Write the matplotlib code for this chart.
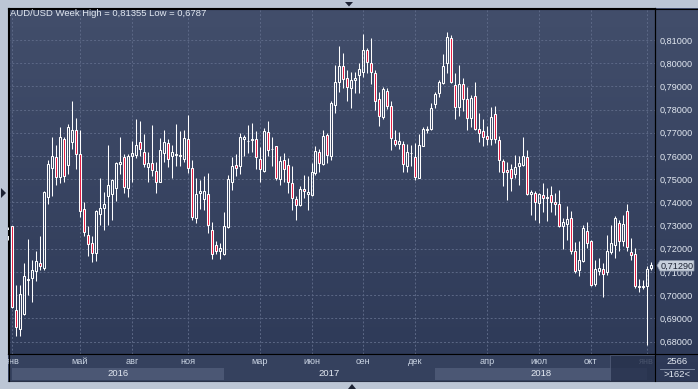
import numpy as np
import matplotlib
matplotlib.use('Agg')
import matplotlib.pyplot as plt
from matplotlib.patches import Rectangle, Polygon
from matplotlib.lines import Line2D

plt.rcParams['font.family'] = ['Liberation Sans', 'DejaVu Sans']

# weekly AUD/USD candles
opens = [0.7255, 0.7297, 0.6938, 0.6855, 0.6921, 0.7064, 0.7074, 0.7106, 0.7139, 0.7117,
         0.7423, 0.7548, 0.7595, 0.7509, 0.7672, 0.7562, 0.7662, 0.7713, 0.7608, 0.7371,
         0.7261, 0.7225, 0.7182, 0.7350, 0.7375, 0.7426, 0.7436, 0.7462, 0.7565, 0.7595,
         0.7464, 0.7598, 0.7605, 0.7660, 0.7617, 0.7552, 0.7569, 0.7536, 0.7490, 0.7615,
         0.7655, 0.7598, 0.7605, 0.7598, 0.7586, 0.7674, 0.7548, 0.7332, 0.7440, 0.7414,
         0.7436, 0.7282, 0.7218, 0.7189, 0.7179, 0.7294, 0.7486, 0.7562, 0.7555, 0.7672,
         0.7664, 0.7671, 0.7674, 0.7588, 0.7536, 0.7703, 0.7629, 0.7641, 0.7500, 0.7583,
         0.7562, 0.7483, 0.7414, 0.7387, 0.7457, 0.7437, 0.7433, 0.7526, 0.7619, 0.7565,
         0.7691, 0.7598, 0.7820, 0.7918, 0.7988, 0.7935, 0.7892, 0.7928, 0.7949, 0.7964,
         0.8057, 0.8000, 0.7957, 0.7845, 0.7770, 0.7880, 0.7816, 0.7670, 0.7651, 0.7651,
         0.7558, 0.7611, 0.7595, 0.7507, 0.7645, 0.7710, 0.7716, 0.7825, 0.7870, 0.7916,
         0.8000, 0.8107, 0.7906, 0.7813, 0.7909, 0.7845, 0.7763, 0.7859, 0.7716, 0.7708,
         0.7687, 0.7672, 0.7781, 0.7670, 0.7579, 0.7540, 0.7543, 0.7522, 0.7555, 0.7562,
         0.7595, 0.7436, 0.7440, 0.7397, 0.7433, 0.7423, 0.7433, 0.7401, 0.7394, 0.7297,
         0.7308, 0.7332, 0.7189, 0.7107, 0.7149, 0.7278, 0.7232, 0.7050, 0.7103, 0.7114,
         0.7100, 0.7185, 0.7218, 0.7311, 0.7232, 0.7361, 0.7186, 0.7177, 0.7040, 0.7035,
         0.7041, 0.7117]
highs = [0.7295, 0.7299, 0.7045, 0.7045, 0.7139, 0.7243, 0.7153, 0.7189, 0.7256, 0.7447,
         0.7581, 0.7681, 0.7648, 0.7724, 0.7681, 0.7738, 0.7839, 0.7763, 0.7713, 0.7403,
         0.7297, 0.7256, 0.7368, 0.7507, 0.7444, 0.7648, 0.7500, 0.7576, 0.7680, 0.7609,
         0.7609, 0.7665, 0.7759, 0.7753, 0.7695, 0.7617, 0.7734, 0.7572, 0.7677, 0.7713,
         0.7674, 0.7648, 0.7738, 0.7708, 0.7713, 0.7777, 0.7583, 0.7505, 0.7497, 0.7512,
         0.7526, 0.7314, 0.7232, 0.7225, 0.7357, 0.7519, 0.7594, 0.7608, 0.7698, 0.7691,
         0.7734, 0.7741, 0.7708, 0.7637, 0.7720, 0.7751, 0.7684, 0.7645, 0.7598, 0.7615,
         0.7591, 0.7558, 0.7426, 0.7472, 0.7519, 0.7512, 0.7569, 0.7641, 0.7631, 0.7713,
         0.7698, 0.7837, 0.7992, 0.8074, 0.8045, 0.7971, 0.7964, 0.7964, 0.8000, 0.8126,
         0.8064, 0.8107, 0.7971, 0.7878, 0.7899, 0.7892, 0.7839, 0.7713, 0.7703, 0.7665,
         0.7651, 0.7648, 0.7658, 0.7695, 0.7723, 0.7730, 0.7827, 0.7878, 0.7928, 0.8040,
         0.81355, 0.8122, 0.7957, 0.7992, 0.7935, 0.7899, 0.7863, 0.7921, 0.7787, 0.7759,
         0.7730, 0.7810, 0.7816, 0.7687, 0.7586, 0.7576, 0.7565, 0.7605, 0.7598, 0.7680,
         0.7627, 0.7454, 0.7447, 0.7440, 0.7483, 0.7462, 0.7469, 0.7440, 0.7454, 0.7332,
         0.7383, 0.7364, 0.7229, 0.7232, 0.7304, 0.7315, 0.7239, 0.7153, 0.7160, 0.7139,
         0.7261, 0.7304, 0.7340, 0.7325, 0.7347, 0.7394, 0.7246, 0.7203, 0.7072, 0.7066,
         0.7124, 0.7143]
lows = [0.7240, 0.6945, 0.6823, 0.6823, 0.6916, 0.7000, 0.6969, 0.7063, 0.7110, 0.7107,
        0.7393, 0.7426, 0.7476, 0.7483, 0.7490, 0.7523, 0.7631, 0.7545, 0.7335, 0.7256,
        0.7170, 0.7142, 0.7149, 0.7304, 0.7282, 0.7304, 0.7322, 0.7404, 0.7522, 0.7440,
        0.7423, 0.7486, 0.7591, 0.7598, 0.7552, 0.7490, 0.7512, 0.7440, 0.7488, 0.7576,
        0.7552, 0.7505, 0.7555, 0.7555, 0.7576, 0.7526, 0.7325, 0.7311, 0.7371, 0.7368,
        0.7268, 0.7157, 0.7179, 0.7157, 0.7175, 0.7289, 0.7454, 0.7512, 0.7523, 0.7601,
        0.7615, 0.7619, 0.7543, 0.7490, 0.7533, 0.7601, 0.7558, 0.7495, 0.7473, 0.7490,
        0.7440, 0.7368, 0.7325, 0.7385, 0.7421, 0.7368, 0.7426, 0.7519, 0.7533, 0.7562,
        0.7569, 0.7583, 0.7787, 0.7875, 0.7892, 0.7839, 0.7809, 0.7870, 0.7870, 0.7942,
        0.7957, 0.7909, 0.7799, 0.7731, 0.7759, 0.7803, 0.7627, 0.7641, 0.7629, 0.7533,
        0.7529, 0.7555, 0.7497, 0.7505, 0.7641, 0.7701, 0.7710, 0.7806, 0.7856, 0.7911,
        0.7957, 0.7913, 0.7759, 0.7773, 0.7792, 0.7713, 0.7727, 0.7713, 0.7662, 0.7641,
        0.7648, 0.7648, 0.7655, 0.7529, 0.7469, 0.7411, 0.7447, 0.7505, 0.7473, 0.7559,
        0.7433, 0.7344, 0.7322, 0.7311, 0.7357, 0.7318, 0.7357, 0.7347, 0.7295, 0.7199,
        0.7236, 0.7179, 0.7096, 0.7081, 0.7143, 0.7203, 0.7038, 0.7038, 0.7089, 0.6992,
        0.7086, 0.7179, 0.7160, 0.7192, 0.7211, 0.7189, 0.7153, 0.7030, 0.7014, 0.7025,
        0.6787, 0.7110]
closes = [0.7285, 0.6948, 0.6862, 0.7005, 0.7081, 0.7068, 0.7110, 0.7149, 0.7124, 0.7443,
          0.7565, 0.7602, 0.7509, 0.7681, 0.7512, 0.7724, 0.7713, 0.7608, 0.7365, 0.7271,
          0.7221, 0.7182, 0.7364, 0.7375, 0.7394, 0.7476, 0.7497, 0.7569, 0.7576, 0.7466,
          0.7598, 0.7615, 0.7648, 0.7629, 0.7565, 0.7569, 0.7540, 0.7490, 0.7624, 0.7662,
          0.7586, 0.7617, 0.7609, 0.7604, 0.7677, 0.7548, 0.7335, 0.7436, 0.7451, 0.7447,
          0.7304, 0.7179, 0.7189, 0.7203, 0.7299, 0.7500, 0.7558, 0.7548, 0.7681, 0.7680,
          0.7666, 0.7673, 0.7595, 0.7543, 0.7708, 0.7627, 0.7632, 0.7505, 0.7579, 0.7543,
          0.7486, 0.7419, 0.7387, 0.7457, 0.7447, 0.7444, 0.7529, 0.7622, 0.7569, 0.7688,
          0.7605, 0.7827, 0.7921, 0.7988, 0.7931, 0.7899, 0.7928, 0.7935, 0.7974, 0.8057,
          0.8004, 0.7964, 0.7835, 0.7774, 0.7888, 0.7817, 0.7677, 0.7652, 0.7665, 0.7565,
          0.7619, 0.7614, 0.7509, 0.7648, 0.7717, 0.7716, 0.7806, 0.7866, 0.7918, 0.7988,
          0.8111, 0.7921, 0.7813, 0.7909, 0.7845, 0.7763, 0.7849, 0.7716, 0.7698, 0.7681,
          0.7672, 0.7767, 0.7672, 0.7581, 0.7533, 0.7529, 0.7507, 0.7551, 0.7569, 0.7598,
          0.7437, 0.7444, 0.7400, 0.7436, 0.7419, 0.7420, 0.7400, 0.7394, 0.7297, 0.7314,
          0.7328, 0.7189, 0.7103, 0.7153, 0.7289, 0.7225, 0.7045, 0.7113, 0.7117, 0.7091,
          0.7192, 0.7225, 0.7332, 0.7232, 0.7307, 0.7208, 0.7172, 0.7040, 0.7036, 0.7040,
          0.7114, 0.7129]

month_pos = [1, 18, 31, 45, 63, 76, 89, 102, 120, 133, 146, 160]
month_lbl = ['янв', 'май', 'авг', 'ноя', 'мар', 'июн', 'сен', 'дек', 'апр', 'июл', 'окт', 'янв']
year_start = [1, 54, 107, 160]
year_lbl = ['2016', '2017', '2018', '2019']
price_ticks = np.arange(0.68, 0.8101, 0.01)

W, H = 698, 389
BG_TOP, BG_BOT = '#424e6b', '#2d3957'
TXT = '#e2e8f1'
RED = '#e3173e'


def fx(px):
    return px / W


def fy(py):
    return 1 - py / H


fig = plt.figure(figsize=(W / 100, H / 100), dpi=100, facecolor='#bcc6d5')

# gradient background of the chart window
bg = fig.add_axes([fx(8.3), fy(381), 1 - fx(8.3), (381 - 8.3) / H])
grad = np.linspace(0, 1, 256)[:, None]
cmap = matplotlib.colors.LinearSegmentedColormap.from_list('bg', [BG_TOP, BG_BOT])
bg.imshow(grad, aspect='auto', cmap=cmap, extent=[0, 1, 0, 1])
bg.set_axis_off()

x0, x1 = 0, 162.1
ax = fig.add_axes([fx(8.3), fy(354), (655 - 8.3) / W, (354 - 8.3) / H])
ax.patch.set_alpha(0)
ax.set_xlim(x0, x1)
ax.set_ylim(0.67466, 0.82366)

ax.set_xticks(month_pos)
ax.set_yticks(price_ticks)
ax.set_yticklabels([f'{v:.5f}'.replace('.', ',') for v in price_ticks])
ax.yaxis.tick_right()
ax.tick_params(axis='x', length=0, labelbottom=False)
ax.tick_params(axis='y', length=0, pad=3, labelsize=6.6, labelcolor=TXT)
ax.grid(True, color='#5c6886', linestyle=(0, (2, 2)), linewidth=0.7)
ax.set_axisbelow(True)
for s in ax.spines.values():
    s.set_color('black')
    s.set_linewidth(0.8)

bw = 0.5
for i, (o, h, l, c) in enumerate(zip(opens, highs, lows, closes)):
    top, bot = max(o, c), min(o, c)
    ax.vlines(i, top, h, color='white', linewidth=0.75, zorder=3)
    ax.vlines(i, l, bot, color='white', linewidth=0.75, zorder=3)
    face = 'none' if c >= o else RED
    ax.add_patch(Rectangle((i - bw / 2, bot), bw, top - bot, facecolor=face,
                           edgecolor='white', linewidth=0.75, zorder=4))

fig.text(fx(10.5), fy(14), 'AUD/USD Week High = 0,81355 Low = 0,6787',
         ha='left', va='center', fontsize=6.8, color=TXT)

# time bar below the chart
bx = fig.add_axes([fx(8.3), fy(381), (655 - 8.3) / W, (381 - 354) / H])
bx.set_xlim(x0, x1)
bx.set_ylim(381, 354)
bx.set_axis_off()
bx.add_patch(Rectangle((x0, 354), x1 - x0, 27, facecolor='#35415e', edgecolor='none'))
bounds = year_start + [x1 + 10]
for k in range(len(year_lbl)):
    if k % 2 == 0:
        bx.add_patch(Rectangle((bounds[k], 368), bounds[k + 1] - bounds[k], 12,
                               facecolor='#4b5774', edgecolor='none'))
    cx = (bounds[k] + bounds[k + 1]) / 2 if k < 3 else bounds[k] + 4.6
    bx.text(cx, 374, year_lbl[k], ha='center', va='center', fontsize=6.8,
            color=TXT, clip_on=True)
for p, lbl in zip(month_pos, month_lbl):
    bx.text(p, 361.5, lbl, ha='center', va='center', fontsize=6.6,
            color='#c9d3e2', clip_on=True)
bx.add_patch(Rectangle((150.8, 354.5), 20, 27, facecolor='#26314c', alpha=0.8,
                       edgecolor='#56627e', linewidth=0.6, zorder=5))


# frame lines
def hline(y, xa, xb, color='black', lw=0.8):
    fig.add_artist(Line2D([fx(xa), fx(xb)], [fy(y), fy(y)], color=color, linewidth=lw))


def vline(x, ya, yb, color='black', lw=0.8):
    fig.add_artist(Line2D([fx(x), fx(x)], [fy(ya), fy(yb)], color=color, linewidth=lw))


hline(8.5, 8.3, 698)
hline(354, 8.3, 698)
hline(381, 8.3, 698, color='#2a3248')
vline(8.5, 8.3, 381)
vline(655, 8.3, 381)

# current price flag
flag = [(657, 265.5), (660, 260.5), (694, 260.5), (694, 271), (660, 271)]
fig.add_artist(Polygon([(fx(a), fy(b)) for a, b in flag], closed=True,
                       facecolor='#c8d0dc', edgecolor='#8c97aa', linewidth=0.5))
fig.text(fx(661), fy(266), '0,71290', ha='left', va='center', fontsize=6.6, color='#1e2535')

# corner counters
fig.text(fx(677), fy(361.5), '2566', ha='center', va='center', fontsize=6.8, color=TXT)
hline(368.5, 660, 694, color='#8a96ad', lw=0.6)
fig.text(fx(677), fy(374.5), '>162<', ha='center', va='center', fontsize=6.8, color=TXT)

# scroll arrows on the frame
for tri in ([(345, 2), (353, 2), (349, 6.5)],
            [(348, 389), (356, 389), (352, 384)],
            [(1, 188), (1, 198), (6, 193)]):
    fig.add_artist(Polygon([(fx(a), fy(b)) for a, b in tri], closed=True,
                           facecolor='#1c2233', edgecolor='none'))

fig.savefig('out.png', dpi=100, facecolor=fig.get_facecolor())
